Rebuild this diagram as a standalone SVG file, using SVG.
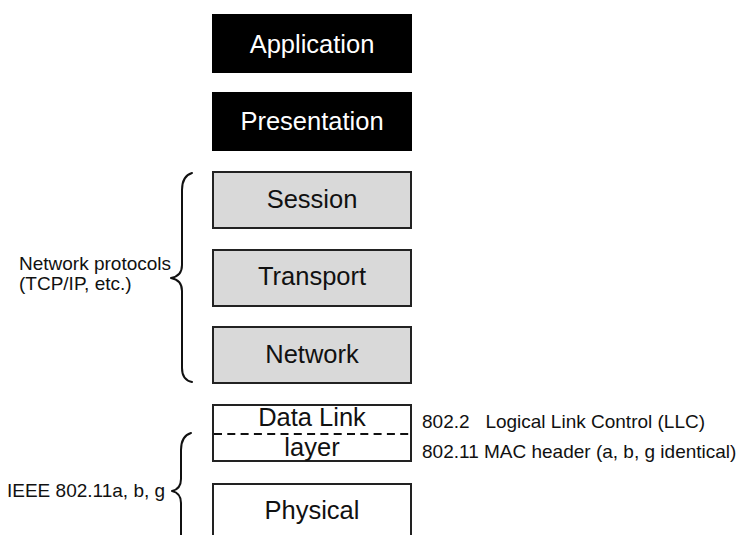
<svg xmlns="http://www.w3.org/2000/svg" width="739" height="535" viewBox="0 0 739 535">
  <style>
    .lbl { font-family: "Liberation Sans", Arial, Helvetica, sans-serif; }
    .box-text { font-size: 25.5px; text-anchor: middle; }
    .side { font-size: 19px; fill: #111; }
    .dark rect { fill: #000; stroke: #000; stroke-width: 2; }
    .dark text { fill: #fff; }
    .grey rect { fill: #d9d9d9; stroke: #222; stroke-width: 2; }
    .grey text, .plain text { fill: #111; }
    .plain rect { fill: #fff; stroke: #222; stroke-width: 2; }
    .brace { fill: none; stroke: #111; stroke-width: 2; stroke-linecap: round; stroke-linejoin: round; }
  </style>
  <rect width="739" height="535" fill="#fff"/>

  <!-- OSI layers -->
  <g id="application" class="dark">
    <rect x="213" y="15" width="198" height="57"/>
    <text class="lbl box-text" x="312" y="53">Application</text>
  </g>
  <g id="presentation" class="dark">
    <rect x="213" y="93" width="198" height="57"/>
    <text class="lbl box-text" x="312" y="130">Presentation</text>
  </g>
  <g id="session" class="grey">
    <rect x="213" y="172" width="198" height="56"/>
    <text class="lbl box-text" x="312" y="208">Session</text>
  </g>
  <g id="transport" class="grey">
    <rect x="213" y="250" width="198" height="56"/>
    <text class="lbl box-text" x="312" y="285">Transport</text>
  </g>
  <g id="network" class="grey">
    <rect x="213" y="327" width="198" height="56"/>
    <text class="lbl box-text" x="312" y="363">Network</text>
  </g>
  <g id="datalink" class="plain">
    <rect x="213" y="405" width="198" height="56"/>
    <line x1="214" y1="434" x2="410" y2="434" stroke="#111" stroke-width="2" stroke-dasharray="8 5.3"/>
    <text class="lbl box-text" x="312" y="426">Data Link</text>
    <text class="lbl box-text" x="312" y="456">layer</text>
  </g>
  <g id="physical" class="plain">
    <rect x="213" y="484" width="198" height="60"/>
    <text class="lbl box-text" x="312" y="519">Physical</text>
  </g>

  <!-- annotations -->
  <g id="net-protocols">
    <path class="brace" d="M192,173 Q182,176 182,190 L182,265 Q182,276 171,278 Q182,280 182,291 L182,368 Q182,380 192,382"/>
    <text class="lbl side" x="19" y="270">Network protocols</text>
    <text class="lbl side" x="19" y="290">(TCP/IP, etc.)</text>
  </g>
  <g id="ieee">
    <path class="brace" d="M191,433 Q181,436 181,450 L181,479 Q181,489 172,491 Q181,493 181,503 L181,545"/>
    <text class="lbl side" x="7" y="497">IEEE 802.11a, b, g</text>
  </g>
  <g id="llc">
    <text class="lbl side" x="422" y="428" xml:space="preserve">802.2   Logical Link Control (LLC)</text>
  </g>
  <g id="mac">
    <text class="lbl side" x="422" y="458">802.11 MAC header (a, b, g identical)</text>
  </g>
</svg>
